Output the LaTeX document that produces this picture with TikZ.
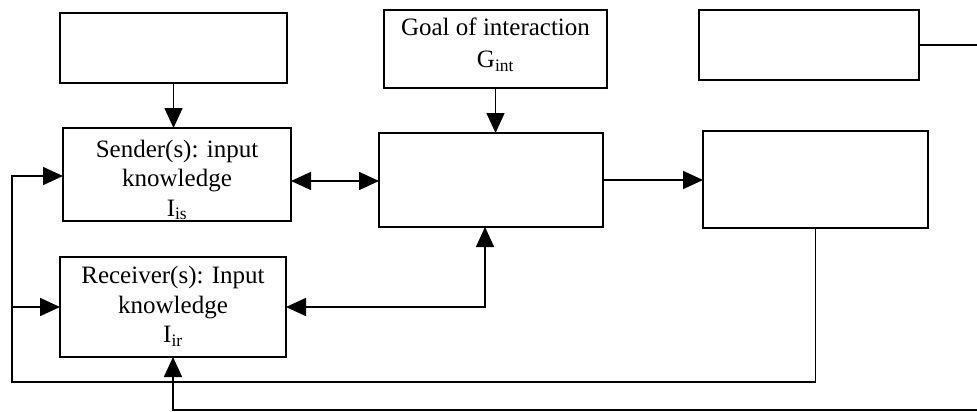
\documentclass[tikz,border=0pt]{standalone}
\usepackage{fontspec}
\setmainfont{Liberation Serif}
\usetikzlibrary{arrows.meta,calc}
\begin{document}
\begin{tikzpicture}[x=1pt,y=-1pt,
  box/.style={draw, line width=1.6pt, inner sep=0pt, outer sep=0pt},
  lbl/.style={align=center, font=\fontsize{25}{29.5}\selectfont, anchor=north, inner sep=0pt},
  conn/.style={line width=1.6pt},
  arr/.style={conn, -{Triangle[length=20pt,width=18pt]}},
  darr/.style={conn, {Triangle[length=20pt,width=18pt]}-{Triangle[length=20pt,width=18pt]}}
  ]
\useasboundingbox (0,0) rectangle (977,412);
% boxes
\node[box, minimum width=227pt, minimum height=70pt] (A) at (173.5,48) {};
\node[box, minimum width=228pt, minimum height=93pt] (S) at (177,174.5) {};
\node[box, minimum width=226pt, minimum height=100pt] (R) at (173,307) {};
\node[box, minimum width=223pt, minimum height=78pt] (G) at (495.5,49) {};
\node[box, minimum width=224pt, minimum height=94pt] (C) at (491,180) {};
\node[box, minimum width=220pt, minimum height=70pt] (TR) at (809,45) {};
\node[box, minimum width=225pt, minimum height=97pt] (RB) at (815.5,179.5) {};
% texts
\node[lbl] (St) at (177,139.5) {Sender(s): input\\knowledge\\I\textsubscript{is}};
\node[lbl] (Rt) at (173,266) {Receiver(s): Input\\knowledge\\I\textsubscript{ir}};
\node[lbl, font=\fontsize{25}{32}\selectfont] (Gt) at (495.5,17.5) {Goal of interaction\\G\textsubscript{int}};
% coordinates
\coordinate (loopL) at (12,382);
\coordinate (trend) at (977,45);
\coordinate (botR) at (977,410);
\coordinate (sE) at ($(S.east)+(0,6.5)$);
\coordinate (sW) at ($(S.west)+(0,1.5)$);
\coordinate (cS) at ($(C.south)+(-6,0)$);
% connectors
\draw[arr] (A.south) -- (A.south |- S.north);
\draw[arr] (G.south) -- (G.south |- C.north);
\draw[darr] (sE) -- (sE -| C.west);
\draw[arr] (C.east) -- (C.east -| RB.west);
\draw[conn] (TR.east) -- (trend);
\draw[arr] (RB.south) |- (loopL) |- (sW);
\draw[arr] (R.west -| loopL) -- (R.west);
\draw[darr] (R.east) -| (cS);
\draw[arr] (botR) -| (R.south);
\end{tikzpicture}
\end{document}
